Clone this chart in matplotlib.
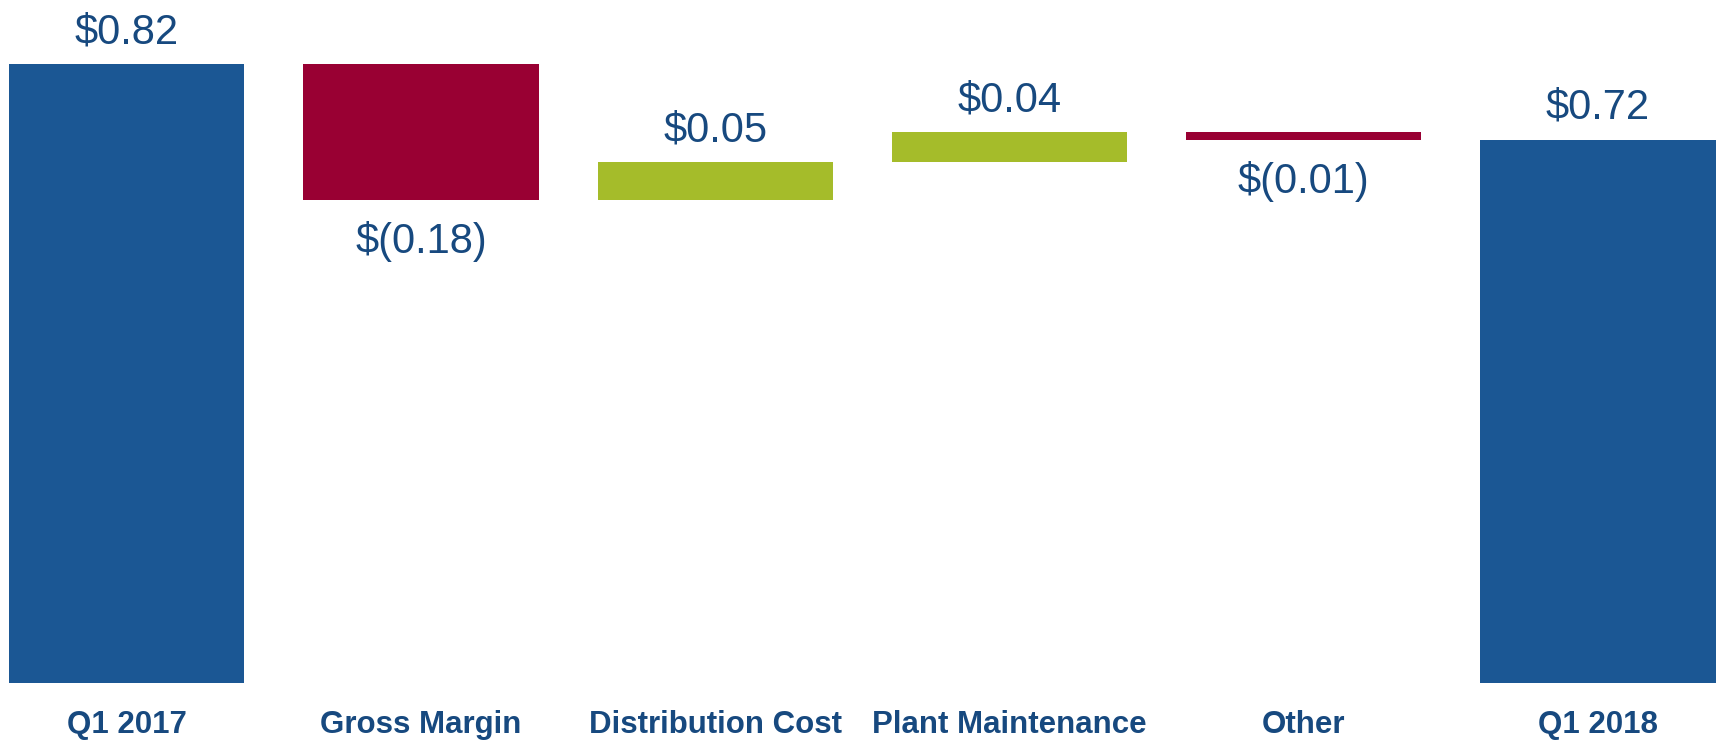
import matplotlib
matplotlib.use("Agg")
import matplotlib.pyplot as plt
import numpy as np

# bridge: Q1 2017 EPS -> Q1 2018 EPS
categories = ["Q1 2017", "Gross Margin", "Distribution Cost", "Plant Maintenance", "Other", "Q1 2018"]
start_value = 0.82
changes = [-0.18, 0.05, 0.04, -0.01]
end_value = 0.72
labels = ["$0.82", "$(0.18)", "$0.05", "$0.04", "$(0.01)", "$0.72"]

blue = "#1B5794"
red = "#990033"
green = "#A5BC2A"
txt = "#17497F"

plt.rcParams['font.family'] = ['Liberation Sans', 'DejaVu Sans']

fig = plt.figure(figsize=(17.19, 7.40), dpi=100)
ax = fig.add_axes([0, 0, 1, 1])

# bottoms / heights for the floating bars
heights = [start_value]
bottoms = [0]
level = start_value
for c in changes:
    if c < 0:
        bottoms.append(level + c)
    else:
        bottoms.append(level)
    heights.append(abs(c))
    level += c
heights.append(end_value)
bottoms.append(0)

colors = [blue] + [green if c > 0 else red for c in changes] + [blue]
xs = np.arange(len(categories))
ax.bar(xs, heights, bottom=bottoms, width=0.8, color=colors, edgecolor='none')

# value labels: above for positive, below for negative
signs = [1] + [1 if c > 0 else -1 for c in changes] + [1]
for i in range(len(xs)):
    top = bottoms[i] + heights[i]
    if signs[i] > 0:
        ax.annotate(labels[i], (xs[i], top), xytext=(0, 15), textcoords='offset points',
                    ha='center', va='baseline', fontsize=30, color=txt)
    else:
        ax.annotate(labels[i], (xs[i], bottoms[i]), xytext=(0, -38), textcoords='offset points',
                    ha='center', va='baseline', fontsize=30, color=txt)

# category names along the bottom
for i, name in enumerate(categories):
    ax.text(xs[i], 0.0095, name, transform=ax.get_xaxis_transform(), ha='center',
            va='baseline', fontsize=22.5, fontweight='bold', color=txt)

ax.set_xlim(-0.4306, 5.411)
ax.set_ylim(-0.0755, 0.9052)
ax.axis('off')

fig.savefig("out.png", dpi=100, facecolor='white')
